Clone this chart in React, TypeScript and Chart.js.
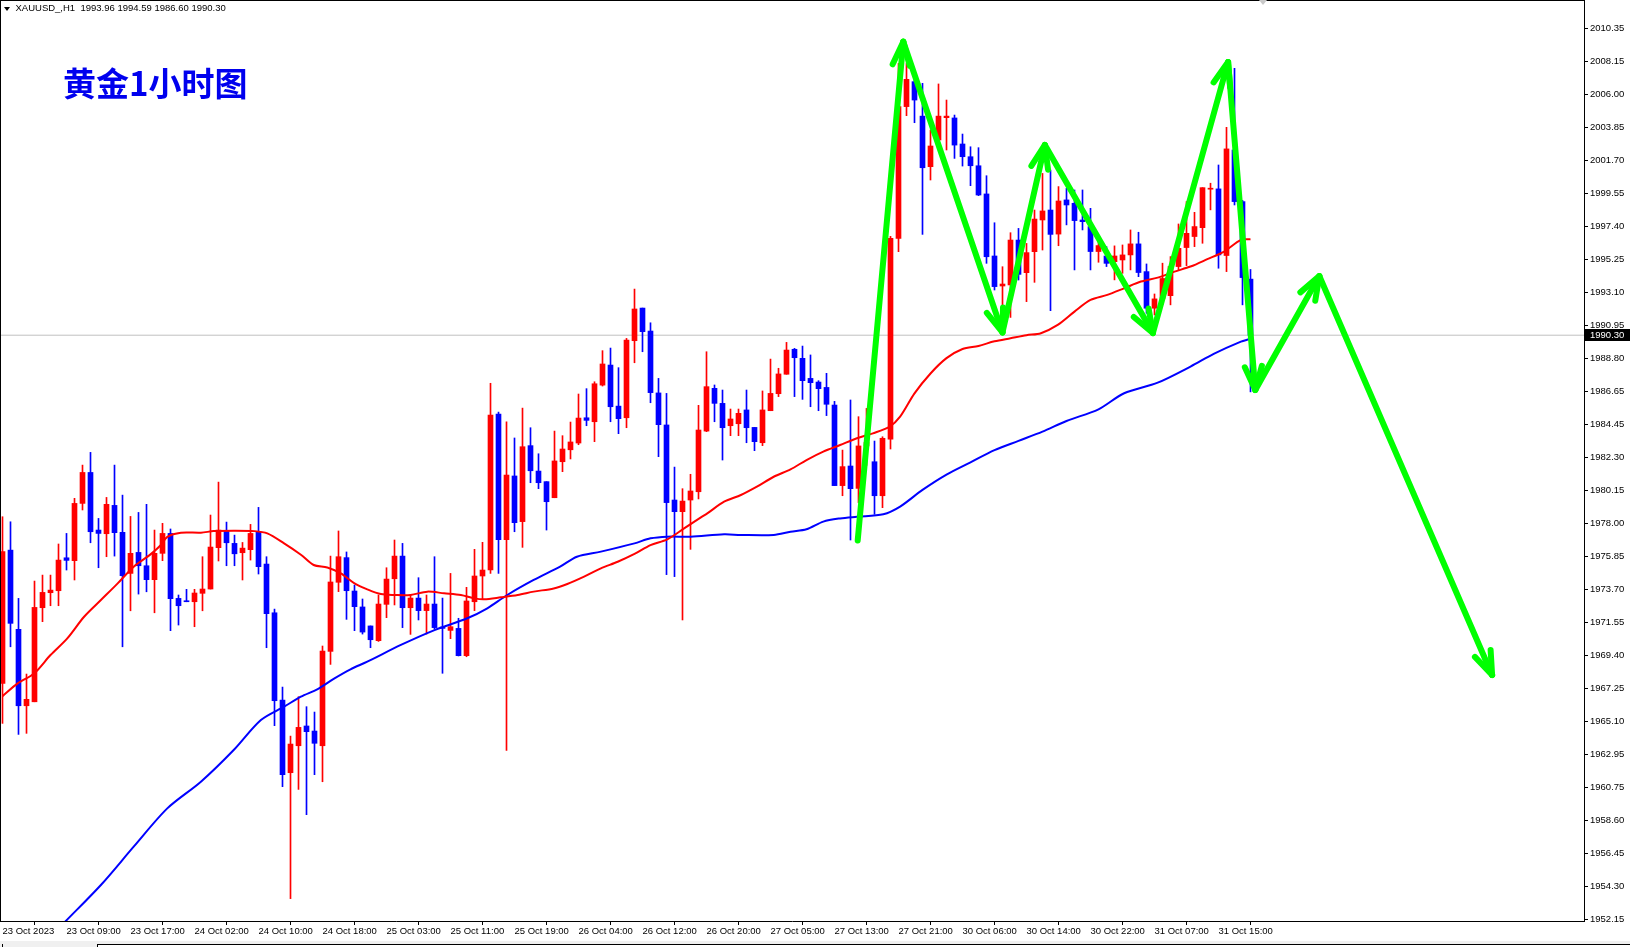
import React, { useEffect, useRef } from "react";
import { Chart, registerables } from "chart.js";

Chart.register(...registerables);

// ---- Data (XAUUSD H1, 23 Oct 01:00 .. 31 Oct 19:00) ----
const opens = [
  1967.57, 1976.27, 1971.10, 1966.11, 1966.37, 1972.51, 1973.49, 1973.62, 1975.77, 1975.58,
  1979.32, 1981.34, 1977.58, 1977.34, 1979.19, 1977.43, 1974.75, 1976.12, 1975.25, 1974.34,
  1976.06, 1977.36, 1973.12, 1972.95, 1972.90, 1973.45, 1973.73, 1976.43, 1977.51, 1976.71,
  1976.10, 1976.30, 1977.49, 1975.36, 1972.18, 1966.48, 1961.74, 1963.50, 1964.79, 1964.46,
  1963.50, 1969.66, 1974.17, 1975.78, 1973.60, 1972.56, 1971.32, 1970.36, 1972.73, 1974.40,
  1975.88, 1972.51, 1973.14, 1972.32, 1972.75, 1971.25, 1971.03, 1971.16, 1969.38, 1972.90,
  1974.58, 1974.97, 1985.15, 1976.95, 1981.11, 1978.13, 1983.09, 1981.43, 1980.74, 1979.69,
  1982.04, 1982.82, 1983.26, 1984.91, 1984.65, 1987.04, 1988.35, 1985.67, 1984.91, 1989.94,
  1992.07, 1990.57, 1986.53, 1984.44, 1979.54, 1978.78, 1979.54, 1980.08, 1984.04, 1986.83,
  1985.85, 1984.39, 1984.52, 1985.42, 1984.28, 1983.28, 1985.37, 1986.48, 1987.75, 1989.38,
  1988.79, 1987.48, 1987.24, 1986.89, 1985.74, 1980.48, 1981.76, 1980.30, 1983.07, 1982.04,
  1979.82, 1983.52, 1996.62, 2005.22, 2006.85, 2004.60, 2001.30, 2003.04, 2004.50, 2004.48,
  2002.78, 2001.95, 2001.36, 1999.52, 1995.47, 1993.51, 1993.58, 1996.51, 1994.38, 1995.75,
  1997.82, 1998.47, 1996.90, 1999.13, 1998.91, 1997.82, 1997.39, 1995.76, 1995.47, 1995.10,
  1995.21, 1995.54, 1996.26, 1994.45, 1992.06, 1992.70, 1992.88, 1994.78, 1996.02, 1996.74,
  1997.32, 1999.83, 1999.85, 1995.50, 2002.39, 1999.02, 1993.96,
];
const highs = [
  1978.45, 1978.12, 1973.12, 1968.18, 1974.25, 1974.64, 1974.64, 1976.67, 1977.36, 1979.65,
  1981.82, 1982.65, 1978.34, 1979.71, 1981.82, 1979.86, 1978.47, 1978.73, 1979.26, 1977.58,
  1978.02, 1977.65, 1973.34, 1973.71, 1973.71, 1975.84, 1978.56, 1980.71, 1978.10, 1977.25,
  1976.77, 1977.95, 1979.06, 1975.84, 1972.42, 1967.33, 1964.13, 1966.70, 1966.05, 1965.70,
  1970.01, 1975.88, 1977.52, 1976.15, 1973.99, 1973.08, 1971.32, 1973.34, 1975.12, 1976.93,
  1976.71, 1973.34, 1974.47, 1973.34, 1975.84, 1973.14, 1974.75, 1971.82, 1973.84, 1976.32,
  1976.78, 1987.16, 1985.28, 1984.65, 1983.59, 1985.54, 1984.26, 1982.56, 1980.74, 1984.04,
  1983.74, 1984.63, 1986.46, 1986.81, 1987.26, 1989.29, 1989.46, 1988.18, 1990.09, 1993.31,
  1992.07, 1991.11, 1987.48, 1986.50, 1981.69, 1980.28, 1981.22, 1985.72, 1989.22, 1987.05,
  1986.72, 1985.48, 1985.48, 1986.72, 1984.28, 1986.66, 1988.74, 1988.14, 1989.83, 1989.44,
  1989.59, 1989.01, 1987.33, 1987.81, 1985.98, 1982.80, 1986.07, 1984.98, 1985.52, 1983.39,
  1983.67, 1996.75, 2008.04, 2008.04, 2006.96, 2006.74, 2003.69, 2006.70, 2005.65, 2004.67,
  2003.43, 2002.60, 2002.54, 2000.71, 1997.64, 1994.77, 1996.99, 1997.27, 1996.29, 1998.47,
  2000.86, 2001.08, 2000.00, 1999.89, 1999.78, 1999.78, 1998.58, 1996.74, 1996.08, 1996.13,
  1996.19, 1997.17, 1997.02, 1994.95, 1992.99, 1995.00, 1995.43, 1997.56, 1999.02, 1998.32,
  1999.93, 2000.22, 2001.41, 2003.87, 2007.72, 1999.10, 1994.59,
];
const lows = [
  1964.96, 1969.96, 1964.24, 1964.31, 1966.37, 1971.60, 1972.64, 1972.64, 1974.97, 1974.32,
  1978.89, 1976.75, 1975.12, 1975.84, 1975.88, 1969.96, 1972.31, 1973.40, 1973.55, 1972.18,
  1975.58, 1971.01, 1971.38, 1972.90, 1971.27, 1972.31, 1973.73, 1975.56, 1975.25, 1975.25,
  1974.32, 1975.62, 1974.71, 1969.90, 1964.81, 1960.83, 1953.52, 1960.65, 1959.00, 1961.61,
  1961.15, 1968.81, 1973.56, 1971.75, 1971.01, 1970.79, 1969.90, 1970.31, 1971.86, 1972.69,
  1971.21, 1970.77, 1971.71, 1970.79, 1971.12, 1968.23, 1970.49, 1969.36, 1969.31, 1972.32,
  1973.06, 1974.75, 1974.75, 1963.20, 1977.47, 1976.45, 1980.67, 1980.28, 1977.58, 1979.69,
  1981.39, 1982.22, 1983.15, 1984.39, 1983.35, 1986.98, 1984.65, 1983.87, 1984.26, 1988.50,
  1989.22, 1985.89, 1982.37, 1974.67, 1974.54, 1971.71, 1976.32, 1979.61, 1984.00, 1984.65,
  1982.15, 1983.74, 1983.74, 1983.28, 1982.76, 1983.09, 1985.37, 1986.29, 1987.75, 1986.29,
  1986.11, 1985.63, 1985.37, 1985.05, 1980.48, 1979.82, 1976.93, 1979.37, 1981.80, 1978.61,
  1979.04, 1982.87, 1995.75, 2004.63, 2004.17, 1996.88, 2000.43, 2003.04, 2002.39, 2001.84,
  2001.34, 2000.06, 1999.41, 1994.99, 1993.25, 1992.16, 1991.46, 1993.90, 1992.49, 1993.75,
  1995.86, 1991.90, 1996.14, 1997.50, 1994.56, 1997.17, 1994.56, 1995.06, 1994.78, 1993.91,
  1994.34, 1994.56, 1994.12, 1991.73, 1991.62, 1992.30, 1992.28, 1994.56, 1994.84, 1996.08,
  1996.30, 1998.48, 1994.67, 1994.45, 1998.80, 1992.28, 1986.60,
];
const closes = [
  1976.17, 1971.49, 1966.11, 1966.53, 1972.53, 1973.51, 1973.66, 1975.62, 1975.60, 1979.32,
  1981.34, 1977.47, 1977.36, 1979.26, 1977.41, 1974.60, 1976.06, 1975.25, 1974.34, 1976.06,
  1977.36, 1973.10, 1972.64, 1972.90, 1973.47, 1973.73, 1976.47, 1977.58, 1976.75, 1976.03,
  1976.40, 1977.36, 1975.19, 1972.12, 1966.44, 1961.61, 1963.61, 1964.70, 1964.42, 1963.66,
  1969.68, 1974.19, 1975.84, 1973.62, 1972.58, 1970.92, 1970.42, 1972.75, 1974.38, 1975.88,
  1972.51, 1973.14, 1972.32, 1972.75, 1971.21, 1971.16, 1971.27, 1969.38, 1972.95, 1974.58,
  1974.97, 1985.09, 1976.95, 1981.17, 1978.06, 1983.02, 1981.45, 1980.67, 1979.43, 1982.09,
  1982.87, 1983.33, 1984.89, 1984.74, 1987.13, 1988.42, 1985.63, 1984.85, 1989.98, 1992.01,
  1990.53, 1986.55, 1984.46, 1979.37, 1978.78, 1979.47, 1980.13, 1984.11, 1986.94, 1985.85,
  1984.26, 1984.83, 1985.20, 1984.26, 1983.35, 1985.42, 1986.50, 1987.77, 1989.33, 1988.83,
  1987.33, 1987.20, 1986.81, 1985.79, 1980.48, 1981.72, 1980.28, 1983.07, 1983.30, 1979.82,
  1983.57, 1996.62, 2005.22, 2007.00, 2005.65, 2001.23, 2002.65, 2004.60, 2004.60, 2002.71,
  2001.95, 2001.36, 1999.45, 1995.42, 1993.47, 1993.64, 1996.51, 1994.27, 1995.69, 1997.88,
  1998.41, 1996.88, 1999.06, 1998.80, 1997.78, 1997.71, 1995.76, 1996.15, 1994.99, 1995.47,
  1995.54, 1996.26, 1994.39, 1992.06, 1992.67, 1994.00, 1994.78, 1995.97, 1996.95, 1997.39,
  1999.93, 1999.89, 1995.54, 2002.46, 1999.02, 1994.06, 1990.30,
];

// Moving averages, read at bar positions
const maRedBars = [
  0, 1.9, 3.95, 6.0, 8.1, 10.2, 12.3, 14.4, 16.4, 18.5, 19.8, 20.6, 22.3, 24.8, 26.4, 28.9,
  31.5, 33.1, 35.2, 37.3, 38.9, 40.6, 42.3, 44.0, 45.6, 47.3, 49.0, 51.0, 53.1, 55.2, 57.3,
  59.0, 60.2, 62.3, 64.4, 66.4, 68.9, 70.6, 72.7, 74.8, 76.9, 79.0, 81.0, 83.1, 85.2, 87.3,
  88.1, 90.2, 92.3, 94.3, 96.4, 98.5, 100.5, 102.6, 104.7, 106.8, 108.8, 110.9, 112.2, 114,
  116, 118, 120, 122, 124, 126, 128, 129.8, 131.9, 134, 136, 138.1, 140.2, 142.3, 144.4,
  146.5, 148.5, 150.6, 152.7, 154.8, 156,
];
const maRedValues = [
  1966.74, 1967.57, 1968.22, 1969.42, 1970.51, 1971.92, 1973.01, 1974.10, 1975.19, 1975.99,
  1976.60, 1977.14, 1977.41, 1977.41, 1977.51, 1977.54, 1977.51, 1977.36, 1976.71, 1975.97,
  1975.30, 1975.14, 1974.75, 1974.10, 1973.71, 1973.40, 1973.34, 1973.34, 1973.56, 1973.45,
  1973.34, 1973.12, 1973.06, 1973.19, 1973.34, 1973.56, 1973.77, 1974.06, 1974.54, 1975.08,
  1975.51, 1976.02, 1976.60, 1976.97, 1977.69, 1978.41, 1978.67, 1979.43, 1979.87, 1980.41,
  1981.06, 1981.54, 1982.15, 1982.70, 1983.13, 1983.57, 1983.89, 1984.33, 1984.98, 1986.5,
  1987.8, 1988.8, 1989.4, 1989.6, 1989.9, 1990.1, 1990.3, 1990.43, 1990.97, 1991.84, 1992.60,
  1992.93, 1993.36, 1993.80, 1994.06, 1994.45, 1994.78, 1995.26, 1995.76, 1996.52, 1996.56,
];
const maBlueBars = [
  7.8, 12.3, 16.4, 20.6, 24.8, 28.9, 32.3, 35.2, 37.3, 39.4, 41.5, 43.5, 45.6, 49.8, 54.0,
  58.1, 60.6, 63.1, 66.4, 69.7, 71.8, 74.8, 79.0, 81.0, 83.1, 86.0, 90.2, 92.3, 96.4, 98.5,
  100.5, 102.6, 104.7, 106.8, 110.1, 112.2, 115, 118, 121, 124, 127, 130, 133, 137, 140.2,
  144.4, 148.5, 151.4, 154.8, 155.8,
];
const maBlueValues = [
  1952.0, 1954.41, 1956.91, 1959.41, 1961.15, 1963.22, 1965.18, 1966.05, 1966.70, 1967.2,
  1967.90, 1968.49, 1968.99, 1970.08, 1971.05, 1971.82, 1972.47, 1973.34, 1974.32, 1975.19,
  1975.84, 1976.17, 1976.71, 1977.04, 1977.15, 1977.15, 1977.30, 1977.26, 1977.26, 1977.47,
  1977.63, 1978.13, 1978.34, 1978.45, 1978.61, 1979.11, 1980.2, 1981.2, 1982.0, 1982.8,
  1983.4, 1984.0, 1984.7, 1985.46, 1986.51, 1987.20, 1988.25, 1989.08, 1989.88, 1990.03,
];

// Hand-drawn forecast arrows (bar position, price)
const arrowBars = [106.9, 112.6, 125.0, 130.3, 143.8, 153.2, 156.6, 164.6, 186.2];
const arrowPrices = [1976.9, 2009.46, 1990.48, 2002.72, 1990.44, 2008.13, 1986.72, 1994.16, 1968.12];

// Axes
const xTickBars = [0, 8, 16, 24, 32, 40, 48, 56, 64, 72, 80, 88, 96, 104, 112, 120, 128, 136, 144, 152];
const xTickLabels = [
  "23 Oct 2023", "23 Oct 09:00", "23 Oct 17:00", "24 Oct 02:00", "24 Oct 10:00", "24 Oct 18:00",
  "25 Oct 03:00", "25 Oct 11:00", "25 Oct 19:00", "26 Oct 04:00", "26 Oct 12:00", "26 Oct 20:00",
  "27 Oct 05:00", "27 Oct 13:00", "27 Oct 21:00", "30 Oct 06:00", "30 Oct 14:00", "30 Oct 22:00",
  "31 Oct 07:00", "31 Oct 15:00",
];
const yTickValues = [
  2010.35, 2008.15, 2006.0, 2003.85, 2001.7, 1999.55, 1997.4, 1995.25, 1993.1, 1990.95, 1988.8,
  1986.65, 1984.45, 1982.3, 1980.15, 1978.0, 1975.85, 1973.7, 1971.55, 1969.4, 1967.25, 1965.1,
  1962.95, 1960.75, 1958.6, 1956.45, 1954.3, 1952.15,
];
const yMin = 1952.06;
const yMax = 2012.18;
const xMin = -0.3125;
const xMax = 197.6875;

const currentPrice = 1990.3;
const symbolHeader = "XAUUSD_,H1  1993.96 1994.59 1986.60 1990.30";
const chartTitle = "黄金1小时图";

const FONT = "'Liberation Sans', Arial, sans-serif";
const BULL = "#FF0000";
const BEAR = "#0000FF";
const ARROW = "#00FF00";

const decorPlugin = {
  id: "mt4decor",
  afterDatasetsDraw(chart: any) {
    const meta = chart.getDatasetMeta(0);
    const pts = meta.data;
    const ctx = chart.ctx;
    ctx.save();
    ctx.strokeStyle = ARROW;
    ctx.lineWidth = 6;
    ctx.lineCap = "round";
    const L = 25;
    const spread = (20 * Math.PI) / 180;
    for (let k = 1; k < pts.length; k++) {
      const tip = pts[k];
      const prev = pts[k - 1];
      const ang = Math.atan2(prev.y - tip.y, prev.x - tip.x);
      for (const s of [-spread, spread]) {
        ctx.beginPath();
        ctx.moveTo(tip.x, tip.y);
        ctx.lineTo(tip.x + L * Math.cos(ang + s), tip.y + L * Math.sin(ang + s));
        ctx.stroke();
      }
    }
    ctx.restore();
  },
  afterDraw(chart: any) {
    const ctx = chart.ctx;
    const area = chart.chartArea;
    ctx.save();
    ctx.fillStyle = "#000";
    ctx.fillRect(0, 0, 1, area.bottom);
    ctx.fillRect(0, 0, area.right, 1);
    const y = chart.scales.y.getPixelForValue(currentPrice);
    ctx.fillStyle = "#000";
    ctx.fillRect(area.right + 1, Math.round(y) - 6, chart.width - area.right - 1, 12);
    ctx.fillStyle = "#fff";
    ctx.font = `9.5px ${FONT}`;
    ctx.textBaseline = "middle";
    ctx.textAlign = "left";
    ctx.fillText(currentPrice.toFixed(2), area.right + 6, Math.round(y) + 0.5);
    ctx.restore();
  },
};

export default function App() {
  const ref = useRef<HTMLCanvasElement | null>(null);

  useEffect(() => {
    document.body.style.margin = "0";
    const canvas = ref.current;
    if (!canvas) return;
    const colors = opens.map((o, i) => (closes[i] >= o ? BULL : BEAR));
    const bodyData = opens.map((o, i) => ({ x: i, y: [o, closes[i]] }));
    const wickData = opens.map((_, i) => ({ x: i, y: [lows[i], highs[i]] }));

    const chart = new Chart(canvas, {
      type: "bar",
      data: {
        datasets: [
          {
            type: "line",
            label: "forecast",
            data: arrowBars.map((b, i) => ({ x: b, y: arrowPrices[i] })),
            borderColor: ARROW,
            borderWidth: 6,
            borderCapStyle: "round",
            borderJoinStyle: "round",
            pointRadius: 0,
            tension: 0,
            order: 0,
          } as any,
          {
            type: "line",
            label: "MA fast",
            data: maRedBars.map((b, i) => ({ x: b, y: maRedValues[i] })),
            borderColor: BULL,
            borderWidth: 2,
            pointRadius: 0,
            tension: 0.3,
            order: 1,
          } as any,
          {
            type: "line",
            label: "MA slow",
            data: maBlueBars.map((b, i) => ({ x: b, y: maBlueValues[i] })),
            borderColor: BEAR,
            borderWidth: 2,
            pointRadius: 0,
            tension: 0.3,
            order: 1,
          } as any,
          {
            type: "bar",
            label: "body",
            data: bodyData,
            backgroundColor: colors,
            borderWidth: 0,
            barThickness: 5,
            minBarLength: 1,
            grouped: false,
            order: 2,
          } as any,
          {
            type: "bar",
            label: "wick",
            data: wickData,
            backgroundColor: colors,
            borderWidth: 0,
            barThickness: 1,
            grouped: false,
            order: 3,
          } as any,
          {
            type: "line",
            label: "bid",
            data: [
              { x: xMin, y: currentPrice },
              { x: xMax, y: currentPrice },
            ],
            borderColor: "#C0C0C0",
            borderWidth: 1,
            pointRadius: 0,
            order: 4,
          } as any,
        ],
      },
      options: {
        responsive: false,
        animation: false,
        devicePixelRatio: 1,
        events: [],
        layout: { padding: 0 },
        plugins: {
          legend: { display: false },
          tooltip: { enabled: false },
          title: { display: false },
        },
        scales: {
          x: {
            type: "linear",
            min: xMin,
            max: xMax,
            offset: false,
            position: "bottom",
            grid: { display: true, drawOnChartArea: false, drawTicks: true, tickLength: 4, color: "#000" },
            border: { display: true, color: "#000", width: 1 },
            ticks: {
              autoSkip: false,
              maxRotation: 0,
              minRotation: 0,
              align: "start",
              padding: 1,
              color: "#000",
              font: { family: FONT, size: 9.5 },
              callback: (_v: any, idx: number) => xTickLabels[idx] ?? "",
            },
            afterBuildTicks: (s: any) => {
              s.ticks = xTickBars.map((v) => ({ value: v }));
            },
            afterFit: (s: any) => {
              s.height = 20;
              s.paddingLeft = 0;
              s.paddingRight = 0;
            },
          },
          y: {
            type: "linear",
            position: "right",
            min: yMin,
            max: yMax,
            grid: { display: true, drawOnChartArea: false, drawTicks: true, tickLength: 4, color: "#000" },
            border: { display: true, color: "#000", width: 1 },
            ticks: {
              padding: 2,
              color: "#000",
              font: { family: FONT, size: 9.5 },
              callback: (v: any) => Number(v).toFixed(2),
            },
            afterBuildTicks: (s: any) => {
              s.ticks = yTickValues.map((v) => ({ value: v }));
            },
            afterFit: (s: any) => {
              s.width = 46;
              s.paddingTop = 0;
              s.paddingBottom = 0;
            },
          },
        },
      } as any,
      plugins: [decorPlugin as any],
    });
    return () => chart.destroy();
  }, []);

  return (
    <div
      style={{
        position: "fixed",
        left: 0,
        top: 0,
        width: 1630,
        height: 947,
        background: "#fff",
        overflow: "hidden",
      }}
    >
      <canvas ref={ref} width={1630} height={941} style={{ display: "block", width: 1630, height: 941 }} />
      <div
        style={{
          position: "absolute",
          left: 4,
          top: 7,
          width: 0,
          height: 0,
          borderLeft: "3px solid transparent",
          borderRight: "3px solid transparent",
          borderTop: "4px solid #000",
        }}
      />
      <div
        style={{
          position: "absolute",
          left: 15.5,
          top: 2,
          fontFamily: FONT,
          fontSize: 9.5,
          lineHeight: "11px",
          whiteSpace: "pre",
          color: "#000",
        }}
      >
        {symbolHeader}
      </div>
      <div
        style={{
          position: "absolute",
          left: 1259,
          top: 0,
          width: 0,
          height: 0,
          borderLeft: "4px solid transparent",
          borderRight: "4px solid transparent",
          borderTop: "5px solid #C8C8C8",
        }}
      />
      <div
        style={{
          position: "absolute",
          left: 63,
          top: 66,
          fontFamily: "'Noto Sans CJK SC', sans-serif",
          fontWeight: 700,
          fontSize: 33,
          lineHeight: "33px",
          color: "#0000EE",
          whiteSpace: "nowrap",
        }}
      >
        {chartTitle}
      </div>
      <div
        style={{
          position: "absolute",
          left: 0,
          top: 941,
          width: 1630,
          height: 6,
          background: "#F0F0F0",
        }}
      >
        <div style={{ position: "absolute", left: 2, top: 3, width: 1, height: 3, background: "#000" }} />
        <div
          style={{
            position: "absolute",
            left: 97,
            top: 3,
            right: 0,
            height: 3,
            background: "#fff",
            borderTop: "1px solid #000",
            borderLeft: "1px solid #000",
          }}
        />
      </div>
    </div>
  );
}
